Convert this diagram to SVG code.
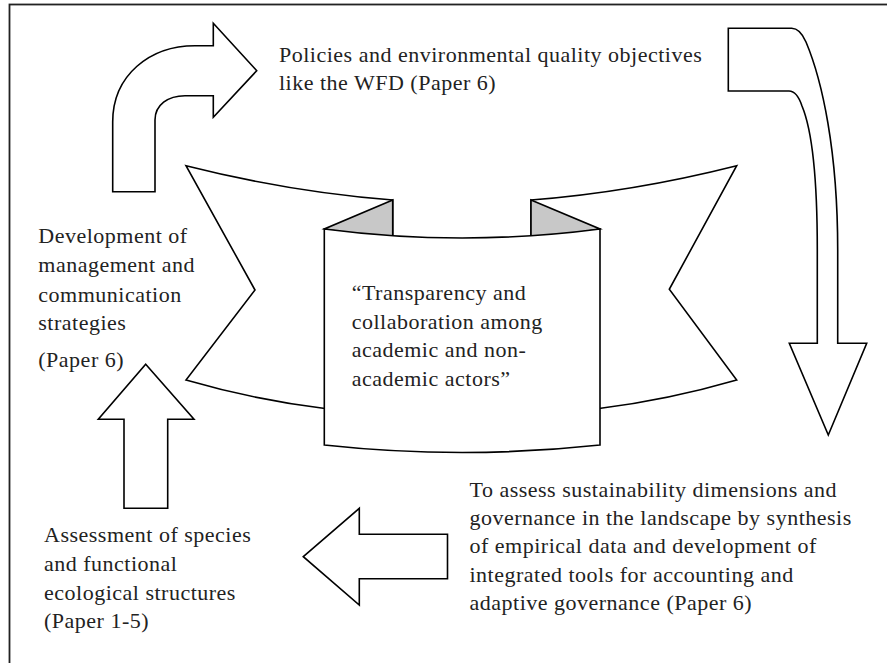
<svg xmlns="http://www.w3.org/2000/svg" width="887" height="663" viewBox="0 0 887 663">
<style>
.s{fill:#fff;stroke:#000;stroke-width:1.6;stroke-linejoin:miter}
.g{fill:#c8c8c8;stroke:#000;stroke-width:1.6}
text{font-family:"Liberation Serif","Times New Roman",serif;font-size:22px;fill:#222;letter-spacing:0.5px}
</style>
<rect x="0" y="0" width="887" height="663" fill="#fff"/>
<rect x="9.5" y="4.5" width="900" height="700" fill="none" stroke="#222" stroke-width="1.8"/>
<g id="banner">
<path class="s" d="M186,165.7 Q290,192 392.7,200 L392.7,408 L325,408.5 Q255,400 186,380 L255,290 Z"/>
<path class="s" d="M531,200 Q632.7,192 736.7,165.7 L669.3,289.3 L736.7,380 Q667.7,400 599,408.5 L531,408 Z"/>
<path class="g" d="M392.7,200 L324.3,229 L392.7,240 Z"/>
<path class="g" d="M531,200 L600,229 L531,240 Z"/>
<path class="s" d="M324.3,229 Q462,247 600,229 L600,445 Q462,460 324.3,445 Z"/>
<text x="351.7" y="300">“Transparency and</text>
<text x="351.7" y="328.7">collaboration among</text>
<text x="351.7" y="357.3">academic and non-</text>
<text x="351.7" y="386">academic actors”</text>
</g>
<g id="connectors">
<path class="s" d="M112.7,191.7 L112.7,122 C112.7,75 150,45.7 195,45.7 L213.3,45.7 L213.3,23.3 L256.7,70.7 L213.3,117.3 L213.3,95.7 L185,95.7 C168,95.7 155,105 155,120 L155,191.7 Z"/>
<path class="s" d="M728.3,28.3 L791.7,28.3 Q800,28.3 806,42 C822,80 837.7,150 837.7,250 L837.7,343.3 L866.7,343.3 L828.3,435 L789.3,343.3 L817.3,343.3 L817.3,250 C817.3,180 812,130 802,106 Q797,91 789,91 L728.3,91 Z"/>
<path class="s" d="M145.7,364.3 L194,419.3 L167.7,419.3 L167.7,508.3 L124,508.3 L124,419.3 L98.3,419.3 Z"/>
<path class="s" d="M303.3,556.7 L359.3,508.3 L359.3,534.3 L447.5,534.3 L447.5,578.7 L359.3,578.7 L359.3,605 Z"/>
</g>
<g id="node-policies">
<text x="279" y="61.7">Policies and environmental quality objectives</text>
<text x="279" y="90">like the WFD (Paper 6)</text>
</g>
<g id="node-development">
<text x="38.3" y="243.3">Development of</text>
<text x="38.3" y="271.7">management and</text>
<text x="38.3" y="301.7">communication</text>
<text x="38.3" y="330">strategies</text>
<text x="38.3" y="366.7">(Paper 6)</text>
</g>
<g id="node-assessment">
<text x="44" y="541.7">Assessment of species</text>
<text x="44" y="570.7">and functional</text>
<text x="44" y="600">ecological structures</text>
<text x="44" y="628.3">(Paper 1-5)</text>
</g>
<g id="node-sustainability">
<text x="469.5" y="497">To assess sustainability dimensions and</text>
<text x="469.5" y="525">governance in the landscape by synthesis</text>
<text x="469.5" y="553.3">of empirical data and development of</text>
<text x="469.5" y="581.7">integrated tools for accounting and</text>
<text x="469.5" y="610">adaptive governance (Paper 6)</text>
</g>
</svg>
